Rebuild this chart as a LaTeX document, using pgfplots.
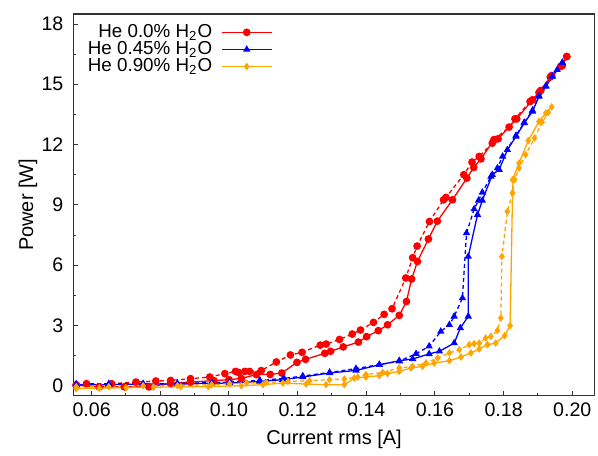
\documentclass[border=0pt]{standalone}
\usepackage{fontspec}
\setmainfont{Liberation Sans}
\usepackage{pgfplots}
\pgfplotsset{compat=1.18}

\definecolor{cred}{RGB}{255,0,0}
\definecolor{cblue}{RGB}{0,0,255}
\definecolor{corange}{RGB}{255,165,0}

\begin{document}
\begin{tikzpicture}
\begin{axis}[
    name=ax,
    scale only axis,
    width=260.75pt, height=191pt,
    xmin=0.0547, xmax=0.2065,
    ymin=-0.5, ymax=18.5,
    xtick={0.06,0.08,0.10,0.12,0.14,0.16,0.18,0.20},
    ytick={0,3,6,9,12,15,18},
    minor x tick num=1,
    minor y tick num=1,
    tick pos=left,
    tick align=inside,
    major tick length=2.5pt,
    minor tick length=1.5pt,
    axis line style={line width=0.7pt, black!80},
    every tick/.style={black!80, line width=0.5pt},
    /pgf/number format/assume math mode=true,
    tick label style={font=\fontsize{9.8}{12}\selectfont},
    label style={font=\fontsize{9.8}{12}\selectfont},
    xticklabel style={/pgf/number format/.cd, fixed, fixed zerofill, precision=2},
    yticklabel style={xshift=-1.5pt},
    scaled x ticks=false,
    xlabel={Current rms [A]},
    ylabel={Power [W]},
    every axis x label/.style={at={(axis description cs:0.5,-0.115)}, anchor=center},
    every axis y label/.style={at={(axis description cs:-0.0873,0.5)}, rotate=90, anchor=center},
    legend plot pos=right,
    legend cell align=right,
    legend style={at={(axis description cs:0.394,0.995)}, anchor=north east, draw=none, fill=none,
        font=\fontsize{9.4}{10}\selectfont, row sep=-3.5pt},
    legend image code/.code={\path (0pt,0pt); \draw[mark repeat=2,mark phase=2] plot coordinates {(2.5pt,0pt) (15pt,0pt) (27.5pt,0pt)};},
    every axis plot/.append style={line width=0.65pt},
]
% He 0.0% H2O, solid
\addplot[cred, mark=*, mark size=1.6pt] coordinates {
(0.0555,0.02) (0.0622,-0.06) (0.0695,-0.06) (0.0767,-0.06) (0.0830,0.12) (0.0888,0.18)
(0.0956,0.25) (0.1000,0.30) (0.1036,0.36) (0.1080,0.55) (0.1120,0.56) (0.1154,0.63)
(0.1198,1.16) (0.1223,1.31) (0.1279,1.61) (0.1296,1.71) (0.1333,1.93) (0.1377,2.17)
(0.1401,2.44) (0.1435,2.74) (0.1462,3.03) (0.1496,3.50) (0.1517,4.19) (0.1532,5.31)
(0.1549,6.18) (0.1581,7.30) (0.1607,8.19) (0.1651,9.25) (0.1693,10.33) (0.1713,10.86)
(0.1734,11.29) (0.1772,12.24) (0.1784,12.29) (0.1838,13.28) (0.1884,14.23) (0.1908,14.69)
(0.1940,15.44) (0.1971,15.93) (0.1984,16.38)
};
\addlegendentry{He 0.0\% H\textsubscript{2}O}
% He 0.0% H2O, dashed
\addplot[cred, mark=*, mark size=1.6pt, dash pattern=on 2pt off 1.5pt, mark options={solid}, forget plot] coordinates {
(0.0555,0.05) (0.0585,0.10) (0.0658,0.10) (0.0729,0.18) (0.0787,0.23) (0.0830,0.26)
(0.0888,0.35) (0.0944,0.43) (0.0988,0.60) (0.1019,0.71) (0.1028,0.66) (0.1046,0.71)
(0.1060,0.71) (0.1094,0.75) (0.1138,1.18) (0.1179,1.53) (0.1213,1.66) (0.1266,2.02)
(0.1283,2.07) (0.1322,2.30) (0.1359,2.57) (0.1383,2.77) (0.1421,3.15) (0.1452,3.55)
(0.1475,3.83) (0.1515,5.36) (0.1535,6.37) (0.1548,6.95) (0.1584,8.17) (0.1625,9.25)
(0.1632,9.37) (0.1684,10.50) (0.1708,11.13) (0.1729,11.41) (0.1767,12.07) (0.1772,12.24)
(0.1816,12.87) (0.1833,13.28) (0.1877,14.14) (0.1903,14.59) (0.1936,15.36) (0.1966,15.89)
(0.1984,16.38)
};
% He 0.45% H2O, solid
\addplot[cblue, mark=triangle*, mark size=1.5pt] coordinates {
(0.0555,0.05) (0.0650,0.05) (0.0750,0.08) (0.0850,0.08) (0.0950,0.12) (0.1002,0.13)
(0.1089,0.21) (0.1157,0.30) (0.1215,0.43) (0.1293,0.63) (0.1370,0.76) (0.1438,1.04)
(0.1496,1.24) (0.1535,1.33) (0.1583,1.58) (0.1613,1.71) (0.1656,2.12) (0.1674,2.87)
(0.1697,3.45) (0.1697,6.43) (0.1724,8.51) (0.1738,9.22) (0.1767,10.50) (0.1787,10.75)
(0.1811,11.74) (0.1836,12.40) (0.1860,13.07) (0.1884,13.65) (0.1903,14.39) (0.1923,14.89)
(0.1942,15.39) (0.1956,15.72) (0.1971,16.08)
};
\addlegendentry{He 0.45\% H\textsubscript{2}O}
% He 0.45% H2O, dashed
\addplot[cblue, mark=triangle*, mark size=1.5pt, dash pattern=on 2pt off 1.5pt, mark options={solid}, forget plot] coordinates {
(0.0555,0.08) (0.0650,0.10) (0.0750,0.10) (0.0850,0.12) (0.0950,0.15) (0.1002,0.18)
(0.1090,0.27) (0.1160,0.36) (0.1215,0.48) (0.1293,0.66) (0.1370,0.85) (0.1438,1.05)
(0.1496,1.22) (0.1545,1.59) (0.1583,1.96) (0.1617,2.70) (0.1642,3.03) (0.1656,3.45)
(0.1680,4.36) (0.1692,7.60) (0.1714,8.79) (0.1727,9.22) (0.1738,9.62) (0.1763,10.41)
(0.1782,10.83) (0.1797,11.41) (0.1836,12.45) (0.1860,13.10) (0.1884,13.70) (0.1903,14.42)
(0.1923,14.92) (0.1942,15.40) (0.1971,16.08)
};
% He 0.90% H2O, solid
\addplot[corange, mark=diamond*, mark size=1.4pt] coordinates {
(0.0555,-0.15) (0.0622,-0.12) (0.0700,-0.10) (0.0780,-0.08) (0.0860,-0.05) (0.0940,-0.05)
(0.1036,0.00) (0.1099,0.05) (0.1157,0.13) (0.1225,0.08) (0.1283,0.05) (0.1336,0.05)
(0.1365,0.38) (0.1399,0.43) (0.1438,0.50) (0.1462,0.60) (0.1496,0.71) (0.1530,0.88)
(0.1564,0.96) (0.1598,1.13) (0.1642,1.24) (0.1676,1.43) (0.1705,1.63) (0.1729,1.83)
(0.1753,2.04) (0.1777,2.12) (0.1803,2.49) (0.1819,2.99) (0.1826,9.59) (0.1826,10.25)
(0.1845,11.08) (0.1872,12.20) (0.1903,13.15) (0.1923,13.57) (0.1940,13.87)
};
\addlegendentry{He 0.90\% H\textsubscript{2}O}
% He 0.90% H2O, dashed
\addplot[corange, mark=diamond*, mark size=1.4pt, dash pattern=on 2pt off 1.5pt, mark options={solid}, forget plot] coordinates {
(0.0555,-0.05) (0.0650,-0.05) (0.0750,0.00) (0.0850,0.00) (0.0950,0.05) (0.1002,0.10)
(0.1051,0.13) (0.1109,0.16) (0.1172,0.21) (0.1235,0.25) (0.1293,0.30) (0.1336,0.33)
(0.1375,0.43) (0.1399,0.55) (0.1448,0.66) (0.1496,0.88) (0.1535,0.96) (0.1574,1.13)
(0.1608,1.38) (0.1642,1.63) (0.1671,1.79) (0.1700,2.04) (0.1714,2.09) (0.1729,2.12)
(0.1748,2.37) (0.1763,2.45) (0.1782,2.75) (0.1792,3.37) (0.1795,6.43) (0.1811,8.67)
(0.1826,9.59) (0.1832,10.25) (0.1845,10.83) (0.1864,11.49) (0.1890,12.32) (0.1912,13.12)
(0.1930,13.60)
};
\end{axis}
\path ([shift={(-36.75pt,-28pt)}]ax.south west) rectangle ([shift={(1.5pt,7pt)}]ax.north east);
\end{tikzpicture}
\end{document}
